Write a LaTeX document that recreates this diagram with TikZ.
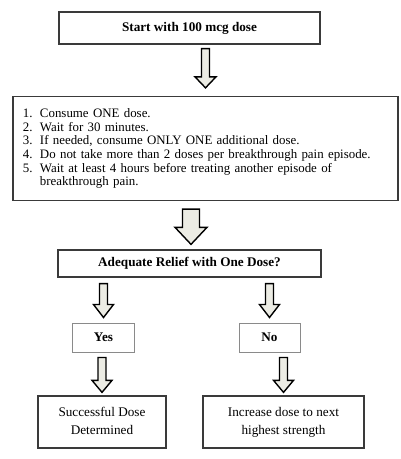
\documentclass[tikz,border=0pt]{standalone}
\usepackage{fontspec}
\setmainfont{Liberation Serif}
\usetikzlibrary{calc}
\definecolor{boxline}{HTML}{3A3A3A}
\definecolor{lightline}{HTML}{8A8A8A}
\definecolor{arrowfill}{HTML}{ECECE4}
\tikzset{
  box/.style={draw=boxline, line width=1.3bp, rectangle, inner sep=2bp, align=center,
    font=\fontsize{13.2bp}{18.5bp}\selectfont},
  smallbox/.style={draw=lightline, line width=1bp, rectangle, align=center,
    font=\fontsize{13.2bp}{14bp}\selectfont\bfseries},
  blockarr/.style={draw=black, line width=1.4bp, fill=arrowfill, line join=miter}
}
% #1 source, #2 target, #3 top gap, #4 bottom gap, #5 shaft half width, #6 head half width, #7 head length
\newcommand\blockarrow[7]{%
  \path[blockarr] let \p1=(#1.south), \p2=(#2.north) in
    (\x2-#5, \y1-#3) -- (\x2+#5, \y1-#3) -- (\x2+#5, \y2+#4+#7) -- (\x2+#6, \y2+#4+#7)
    -- (\x2, \y2+#4) -- (\x2-#6, \y2+#4+#7) -- (\x2-#5, \y2+#4+#7) -- cycle;
}
\newcommand\stepitem[1]{\makebox[17bp][l]{#1}}
\newcommand\twolines[2]{\raisebox{2.5bp}{\begin{tabular}{@{}c@{}}#1\\#2\end{tabular}}}
\begin{document}
\begin{tikzpicture}[x=1bp,y=-1bp]
\useasboundingbox (0,0) rectangle (400,459);
\fill[white] (0,0) rectangle (400,459);
\node[box, minimum width=261bp, minimum height=32bp, font=\fontsize{13.2bp}{14bp}\selectfont\bfseries] (start) at (189.5,28) {Start with 100 mcg dose};
\node[box, minimum width=385bp, minimum height=104bp, text width=365bp, inner xsep=10bp, align=left,
  font=\fontsize{12.9bp}{13.7bp}\selectfont] (steps) at (205.5,148.5) {%
  \stepitem{1.}Consume ONE dose.\par
  \stepitem{2.}Wait for 30 minutes.\par
  \stepitem{3.}If needed, consume ONLY ONE additional dose.\par
  \stepitem{4.}Do not take more than 2 doses per breakthrough pain episode.\par
  \stepitem{5.}Wait at least 4 hours before treating another episode of\par
  \stepitem{}breakthrough pain.\par};
\node[box, minimum width=263bp, minimum height=27bp, font=\fontsize{13.2bp}{14bp}\selectfont\bfseries] (relief) at (189.5,263.5) {Adequate Relief with One Dose?};
\node[smallbox, minimum width=62bp, minimum height=29bp] (yes) at (103.5,337.5) {Yes};
\node[smallbox, minimum width=61bp, minimum height=29bp] (no) at (269.5,337.5) {No};
\node[box, minimum width=128bp, minimum height=52bp] (success) at (102,422) {\twolines{Successful Dose}{Determined}};
\node[box, minimum width=161bp, minimum height=52bp] (increase) at (283.5,422) {\twolines{Increase dose to next}{highest strength}};
\blockarrow{start}{steps}{4bp}{8bp}{4bp}{10.5bp}{11bp}
\path[blockarr] let \p1=(steps.south), \p2=(relief.north) in
    (191bp-8.5bp, \y1-8bp) -- (191bp+8.5bp, \y1-8bp) -- (191bp+8.5bp, \y2+5bp+17bp) -- (191bp+16bp, \y2+5bp+17bp)
    -- (191bp, \y2+5bp) -- (191bp-16bp, \y2+5bp+17bp) -- (191bp-8.5bp, \y2+5bp+17bp) -- cycle;
\blockarrow{relief}{yes}{6bp}{5bp}{4bp}{10bp}{13bp}
\blockarrow{relief}{no}{6bp}{5bp}{4bp}{10bp}{13bp}
\blockarrow{yes}{success}{5bp}{3bp}{4bp}{10bp}{12bp}
\blockarrow{no}{increase}{5bp}{3bp}{4bp}{10bp}{12bp}
\end{tikzpicture}
\end{document}
